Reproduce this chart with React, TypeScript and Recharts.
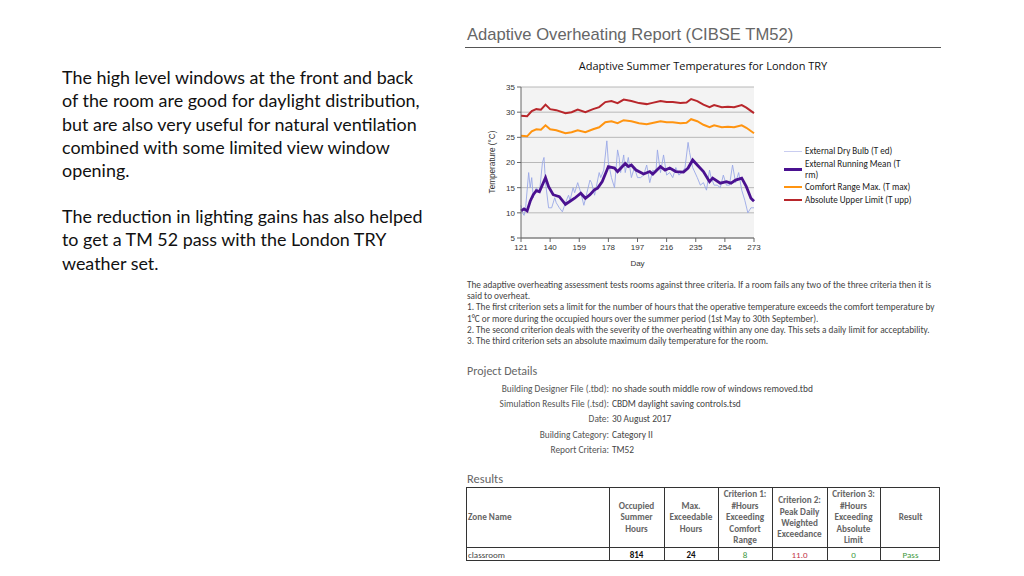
import React from "react";
import { LineChart, Line, XAxis, YAxis, CartesianGrid } from "recharts";

// Daily values (day of year)
const dryBulbDays = [121, 122, 123, 124, 126, 127, 128, 129, 131, 133, 135, 136, 137, 139, 141, 143, 144, 146, 148, 150, 152, 153, 155, 156, 158, 160, 162, 164, 166, 167, 169, 170, 172, 173, 175, 177, 178, 180, 182, 184, 185, 186, 188, 189, 191, 193, 195, 197, 199, 201, 203, 205, 207, 209, 210, 212, 214, 216, 218, 220, 222, 224, 226, 228, 230, 231, 233, 236, 238, 240, 242, 244, 245, 247, 249, 251, 253, 255, 257, 259, 261, 263, 265, 267, 269, 271, 273];
const dryBulbTemps = [11.5, 10, 9.5, 11, 18, 15, 17, 13, 15, 14, 20, 21, 16, 11, 11, 13, 12, 11, 10.2, 12, 13.5, 12.5, 15, 14, 16, 14, 11.5, 14, 16.5, 16, 13.5, 15, 18, 17, 18.5, 24.3, 20, 17, 15, 22.5, 21, 18, 21.5, 18, 21, 17, 19, 17, 17, 17.5, 19.5, 16, 18.5, 18, 22.5, 18, 21.5, 17.5, 18, 17, 19, 17.5, 18, 19, 24, 22, 19, 17, 15.5, 16, 14.5, 18.5, 17, 15.5, 15.5, 15, 17.5, 15.5, 15.5, 19.5, 16, 18, 14.5, 12.5, 10, 11, 11];

const meanDays = [121, 123, 125, 127, 129, 131, 133, 137, 139, 142, 146, 150, 153, 156, 160, 163, 166, 169, 171, 174, 178, 182, 184, 189, 191, 193, 196, 201, 205, 207, 212, 215, 218, 222, 227, 230, 233, 236, 240, 244, 246, 251, 255, 258, 261, 265, 268, 271, 273];
const meanTemps = [10.4, 10.8, 10.4, 12.3, 13.6, 14.4, 14.2, 17.0, 15.2, 13.6, 13.2, 11.7, 12.3, 12.9, 13.9, 12.9, 13.6, 14.6, 14.9, 16.2, 19.2, 18.9, 18.2, 19.8, 19.2, 19.5, 18.5, 17.7, 18.2, 17.7, 19.2, 18.5, 18.9, 18.2, 18.1, 18.9, 20.5, 19.5, 18.2, 16.2, 16.9, 15.9, 16.2, 15.9, 16.5, 16.9, 15.2, 12.9, 12.3];

const limitDays = [121, 125, 128, 131, 134, 137, 140, 144, 150, 154, 158, 163, 168, 172, 176, 180, 184, 188, 193, 198, 203, 206, 212, 216, 220, 225, 229, 232, 236, 240, 244, 247, 252, 256, 260, 265, 268, 273];
const comfortMax = [25.3, 25.2, 26.2, 26.6, 26.5, 27.4, 26.6, 26.4, 25.8, 26.0, 26.4, 26.0, 26.6, 27.0, 28.0, 28.2, 27.8, 28.4, 28.2, 27.8, 27.6, 27.8, 28.2, 28.0, 28.0, 27.8, 27.9, 28.6, 28.2, 27.5, 27.0, 27.4, 27.0, 27.1, 27.0, 27.4, 26.9, 25.8];
const upperLimit = [29.3, 29.2, 30.2, 30.6, 30.5, 31.5, 30.6, 30.4, 29.8, 30.0, 30.5, 30.0, 30.6, 31.0, 32.0, 32.2, 31.8, 32.5, 32.2, 31.8, 31.6, 31.8, 32.2, 32.0, 32.0, 31.8, 31.9, 32.6, 32.2, 31.5, 31.0, 31.4, 31.0, 31.1, 31.0, 31.4, 30.9, 29.8];

const dayTicks = [121, 140, 159, 178, 197, 216, 235, 254, 273];
const tempTicks = [5, 10, 15, 20, 25, 30, 35];

const dryBulbData = dryBulbDays.map((d, i) => ({ day: d, ted: dryBulbTemps[i] }));
const meanData = meanDays.map((d, i) => ({ day: d, trm: meanTemps[i] }));
const limitData = limitDays.map((d, i) => ({ day: d, tmax: comfortMax[i], tupp: upperLimit[i] }));

const legendItems = [
  { lines: ["External Dry Bulb (T ed)"], color: "#c9cdf0", w: 1, top: 151 },
  { lines: ["External Running Mean (T", "rm)"], color: "#4a1190", w: 3, top: 164 },
  { lines: ["Comfort Range Max. (T max)"], color: "#ff9410", w: 2, top: 187 },
  { lines: ["Absolute Upper Limit (T upp)"], color: "#b8262b", w: 2, top: 200 },
];

const bodyLines1 = [
  "The high level windows at the front and back",
  "of the room are good for daylight distribution,",
  "but are also very useful for natural ventilation",
  "combined with some limited view window",
  "opening.",
];
const bodyLines2 = [
  "The reduction in lighting gains has also helped",
  "to get a TM 52 pass with the London TRY",
  "weather set.",
];

const criteriaLines = [
  "The adaptive overheating assessment tests rooms against three criteria. If a room fails any two of the three criteria then it is",
  "said to overheat.",
  "1. The first criterion sets a limit for the number of hours that the operative temperature exceeds the comfort temperature by",
  "1°C or more during the occupied hours over the summer period (1st May to 30th September).",
  "2. The second criterion deals with the severity of the overheating within any one day. This sets a daily limit for acceptability.",
  "3. The third criterion sets an absolute maximum daily temperature for the room.",
];

const projectLabels = [
  "Building Designer File (.tbd):",
  "Simulation Results File (.tsd):",
  "Date:",
  "Building Category:",
  "Report Criteria:",
];
const projectValues = [
  "no shade south middle row of windows removed.tbd",
  "CBDM daylight saving controls.tsd",
  "30 August 2017",
  "Category II",
  "TM52",
];

const tableCols = [
  { head: ["Zone Name"], w: 143, align: "left" },
  { head: ["Occupied", "Summer", "Hours"], w: 55, align: "center" },
  { head: ["Max.", "Exceedable", "Hours"], w: 54, align: "center" },
  { head: ["Criterion 1:", "#Hours", "Exceeding", "Comfort", "Range"], w: 54, align: "center" },
  { head: ["Criterion 2:", "Peak Daily", "Weighted", "Exceedance"], w: 55, align: "center" },
  { head: ["Criterion 3:", "#Hours", "Exceeding", "Absolute", "Limit"], w: 53, align: "center" },
  { head: ["Result"], w: 61, align: "center" },
];
const rowValues = ["classroom", "814", "24", "8", "11.0", "0", "Pass"];
const rowColors = ["#444", "#111", "#111", "#3f9a3f", "#c2334a", "#3f9a3f", "#3f9a3f"];

const report = "Calibri, Carlito, 'Open Sans', sans-serif";
const arial = "'Liberation Sans', Arial, sans-serif";

function App() {
  const abs = (left: number, top: number): React.CSSProperties => ({ position: "absolute", left, top, whiteSpace: "nowrap" });
  let colX = 466;

  return (
    <div style={{ position: "absolute", left: 0, top: 0, width: 1024, height: 576, background: "#fff", overflow: "hidden", fontFamily: report }}>
      {/* left hand slide text */}
      {bodyLines1.map((t, i) => (
        <div key={"a" + i} style={{ ...abs(62, 65 + i * 23.3), fontSize: 17.9, lineHeight: "24px", color: "#111", fontFamily: "Lato, sans-serif" }}>{t}</div>
      ))}
      {bodyLines2.map((t, i) => (
        <div key={"b" + i} style={{ ...abs(62, 204 + i * 23.3), fontSize: 17.9, lineHeight: "24px", color: "#111", fontFamily: "Lato, sans-serif" }}>{t}</div>
      ))}

      {/* report header */}
      <div style={{ ...abs(467, 25), fontSize: 16.6, color: "#666", fontFamily: arial }}>
        Adaptive Overheating Report (CIBSE TM52)
      </div>
      <div style={{ position: "absolute", left: 465, top: 47, width: 476, height: 1, background: "#555" }} />
      <div style={{ position: "absolute", left: 470, top: 58, width: 466, textAlign: "center", fontSize: 11, color: "#111", fontFamily: "'Open Sans', sans-serif" }}>
        Adaptive Summer Temperatures for London TRY
      </div>

      {/* chart */}
      <div style={{ position: "absolute", left: 480, top: 75 }}>
        <LineChart width={300} height={200} margin={{ top: 12, right: 26, bottom: 7, left: 11 }}>
          <CartesianGrid vertical={false} stroke="#b8b8b8" fill="#f3f3f3" />
          <XAxis
            dataKey="day"
            type="number"
            domain={[121, 273]}
            ticks={dayTicks}
            allowDuplicatedCategory={false}
            stroke="#666"
            tick={{ fontSize: 8, fill: "#333", fontFamily: arial }}
            tickSize={4}
            height={30}
            label={{ value: "Day", position: "insideBottom", offset: 2, style: { fontSize: 8, fill: "#333", fontFamily: arial } }}
          />
          <XAxis xAxisId="top" orientation="top" type="number" domain={[121, 273]} tick={false} tickLine={false} height={0} stroke="#aaa" />
          <YAxis
            type="number"
            domain={[5, 35]}
            ticks={tempTicks}
            stroke="#666"
            tick={{ fontSize: 8, fill: "#333", fontFamily: arial }}
            tickSize={4}
            width={30}
          />
          <YAxis yAxisId="right" orientation="right" domain={[5, 35]} tick={false} tickLine={false} width={0} stroke="#aaa" />
          <Line data={dryBulbData} dataKey="ted" type="linear" stroke="#9aa8e6" strokeWidth={0.9} dot={false} isAnimationActive={false} />
          <Line data={limitData} dataKey="tmax" type="linear" stroke="#ff9410" strokeWidth={2} dot={false} isAnimationActive={false} />
          <Line data={limitData} dataKey="tupp" type="linear" stroke="#b8262b" strokeWidth={2} dot={false} isAnimationActive={false} />
          <Line data={meanData} dataKey="trm" type="linear" stroke="#4a1190" strokeWidth={2.8} dot={false} isAnimationActive={false} />
        </LineChart>
      </div>
      <div style={{ position: "absolute", left: 493 - 50, top: 162 - 6, width: 100, height: 12, lineHeight: "12px", textAlign: "center", transform: "rotate(-90deg)", fontSize: 8.2, color: "#333", fontFamily: arial, whiteSpace: "nowrap" }}>
        Temperature (°C)
      </div>

      {/* legend */}
      {legendItems.map((it, i) => (
        <React.Fragment key={"l" + i}>
          <div style={{ position: "absolute", left: 784, top: (it.lines.length > 1 ? it.top + 5 : it.top) - it.w / 2, width: 18, height: it.w, background: it.color }} />
          {it.lines.map((t, j) => (
            <div key={j} style={{ ...abs(805, it.top - 6 + j * 10.5), fontSize: 9.1, lineHeight: "12px", color: "#222" }}>{t}</div>
          ))}
        </React.Fragment>
      ))}

      {/* criteria description */}
      {criteriaLines.map((t, i) => (
        <div key={"c" + i} style={{ ...abs(467, 279 + i * 11.2), fontSize: 9.25, lineHeight: "12px", color: "#444" }}>{t}</div>
      ))}

      {/* project details */}
      <div style={{ ...abs(467, 364), fontSize: 12, color: "#666" }}>Project Details</div>
      {projectLabels.map((t, i) => (
        <div key={"p" + i} style={{ position: "absolute", left: 400, top: 383 + i * 15.2, width: 209, textAlign: "right", fontSize: 9.4, lineHeight: "12px", color: "#555", whiteSpace: "nowrap" }}>{t}</div>
      ))}
      {projectValues.map((t, i) => (
        <div key={"v" + i} style={{ ...abs(612, 383 + i * 15.2), fontSize: 9.4, lineHeight: "12px", color: "#444" }}>{t}</div>
      ))}

      {/* results table */}
      <div style={{ ...abs(467, 471), fontSize: 12.5, color: "#666" }}>Results</div>
      <div style={{ position: "absolute", left: 466, top: 487, width: 474, height: 74, border: "1px solid #333", boxSizing: "border-box" }} />
      <div style={{ position: "absolute", left: 466, top: 547, width: 474, height: 1, background: "#333" }} />
      {tableCols.map((c, i) => {
        const x = colX;
        colX += c.w;
        return (
          <React.Fragment key={"t" + i}>
            {i > 0 && <div style={{ position: "absolute", left: x, top: 487, width: 1, height: 74, background: "#333" }} />}
            <div style={{ position: "absolute", left: x + 2, top: 487, width: c.w - 4, height: 60, display: "flex", flexDirection: "column", justifyContent: "center", alignItems: c.align === "left" ? "flex-start" : "center", fontSize: 9.2, color: "#666", fontWeight: 600, lineHeight: "11.4px", textAlign: c.align as any, whiteSpace: "nowrap" }}>
              {c.head.map((h, j) => <div key={j}>{h}</div>)}
            </div>
            <div style={{ position: "absolute", left: x + 2, top: 548, width: c.w - 4, height: 13, lineHeight: "13px", fontSize: 9, color: rowColors[i], textAlign: c.align as any, fontWeight: i === 1 || i === 2 ? 600 : 400 }}>
              {rowValues[i]}
            </div>
          </React.Fragment>
        );
      })}
    </div>
  );
}

export default App;
